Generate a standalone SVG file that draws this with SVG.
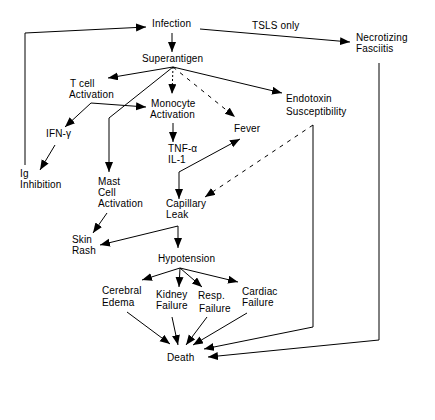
<svg xmlns="http://www.w3.org/2000/svg" width="435" height="420" viewBox="0 0 435 420">
<defs>
<marker id="ah" markerUnits="userSpaceOnUse" markerWidth="11" markerHeight="9" refX="10" refY="4" orient="auto">
<path d="M0,0 L10,4 L0,8 z" fill="#000"/>
</marker>
<style>
text{font-family:"Liberation Sans",Arial,sans-serif;font-size:10px;fill:#000;letter-spacing:0.15px}
.c{fill:none;stroke:#000;stroke-width:1}
.a{marker-end:url(#ah)}
.dash{stroke-dasharray:4,5}
.dot{stroke-dasharray:2,2}
</style>
</defs>
<rect width="435" height="420" fill="#fff"/>
<g id="connectors">
<polyline class="c a" points="25,165 25,33 146,27"/>
<line class="c a" x1="172" y1="33" x2="172" y2="52"/>
<line class="c a" x1="200" y1="29" x2="350" y2="42"/>
<line class="c a" x1="173" y1="67" x2="108" y2="78"/>
<line class="c a dot" x1="173" y1="67" x2="172" y2="94"/>
<polyline class="c a" points="173,67 109,118 109,172"/>
<line class="c a dash" x1="173" y1="67" x2="235" y2="117"/>
<line class="c a" x1="173" y1="67" x2="282" y2="93"/>
<line class="c a" x1="91" y1="103" x2="146" y2="107"/>
<line class="c a" x1="91" y1="103" x2="65" y2="127"/>
<line class="c a" x1="55" y1="145" x2="40" y2="170"/>
<line class="c a" x1="173" y1="123" x2="173" y2="142"/>
<line class="c a" x1="179" y1="172" x2="240" y2="139"/>
<line class="c a" x1="179" y1="172" x2="179" y2="199"/>
<line class="c a dash" x1="313" y1="125" x2="205" y2="197"/>
<polyline class="c a" points="313,125 313,327 204,349"/>
<polyline class="c a" points="379,63 379,340 208,357"/>
<line class="c a" x1="107" y1="213" x2="93" y2="233"/>
<line class="c a" x1="178" y1="226" x2="100" y2="245"/>
<line class="c a" x1="178" y1="226" x2="178" y2="248"/>
<line class="c a" x1="180" y1="268" x2="142" y2="280"/>
<line class="c a" x1="180" y1="268" x2="179" y2="287"/>
<line class="c a" x1="180" y1="268" x2="202" y2="287"/>
<line class="c a" x1="180" y1="268" x2="238" y2="282"/>
<line class="c a" x1="127" y1="312" x2="170" y2="344"/>
<line class="c a" x1="172" y1="317" x2="178" y2="345"/>
<line class="c a" x1="207" y1="317" x2="186" y2="345"/>
<line class="c a" x1="247" y1="313" x2="193" y2="345"/>
</g>
<text x="252" y="29">TSLS only</text>
<g id="infection"><text x="152" y="27">Infection</text></g>
<g id="necrotizing"><text x="356" y="41">Necrotizing</text><text x="356" y="52">Fasciitis</text></g>
<g id="superantigen"><text x="142" y="62">Superantigen</text></g>
<g id="tcell"><text x="70" y="87">T cell</text><text x="69" y="98">Activation</text></g>
<g id="monocyte"><text x="151" y="107">Monocyte</text><text x="150" y="118">Activation</text></g>
<g id="fever"><text x="234" y="132">Fever</text></g>
<g id="endotoxin"><text x="286" y="102">Endotoxin</text><text x="286" y="115">Susceptibility</text></g>
<g id="ifn"><text x="46" y="137">IFN-γ</text></g>
<g id="ig"><text x="20" y="177">Ig</text><text x="20" y="188">Inhibition</text></g>
<g id="tnf"><text x="168" y="152">TNF-α</text><text x="168" y="163">IL-1</text></g>
<g id="mast"><text x="98" y="185">Mast</text><text x="98" y="196">Cell</text><text x="98" y="207">Activation</text></g>
<g id="capillary"><text x="166" y="207">Capillary</text><text x="166" y="218">Leak</text></g>
<g id="skin"><text x="72" y="243">Skin</text><text x="72" y="254">Rash</text></g>
<g id="hypotension"><text x="158" y="262">Hypotension</text></g>
<g id="cerebral"><text x="102" y="294">Cerebral</text><text x="102" y="306">Edema</text></g>
<g id="kidney"><text x="156" y="298">Kidney</text><text x="156" y="309">Failure</text></g>
<g id="resp"><text x="198" y="299">Resp.</text><text x="199" y="312">Failure</text></g>
<g id="cardiac"><text x="242" y="295">Cardiac</text><text x="242" y="306">Failure</text></g>
<g id="death"><text x="167" y="361">Death</text></g>
</svg>
